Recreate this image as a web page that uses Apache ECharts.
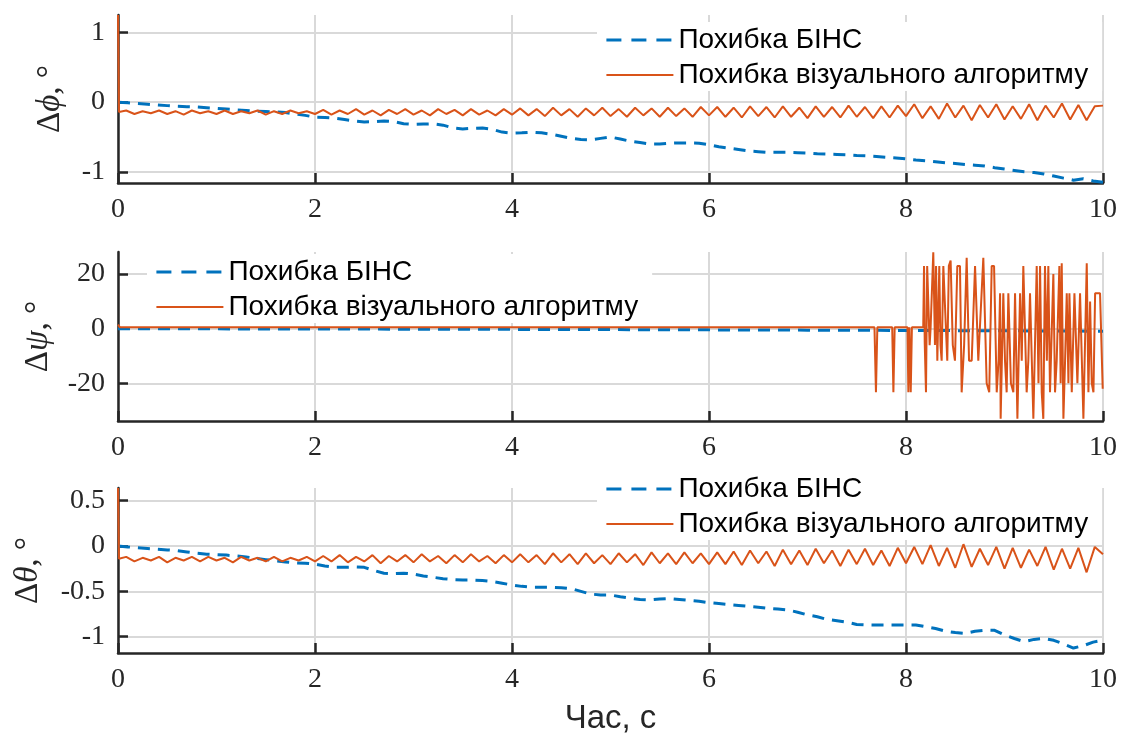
<!DOCTYPE html>
<html><head><meta charset="utf-8">
<script src="https://cdn.jsdelivr.net/npm/echarts@6/dist/echarts.min.js"></script>
<style>html,body{margin:0;padding:0;background:#fff}#c{width:1122px;height:740px}</style>
</head><body><div id="c"></div>
<script>
const xTicks = [0, 2, 4, 6, 8, 10];
const phiTicks = [-1, 0, 1];
const psiTicks = [-20, 0, 20];
const thetaTicks = [-1, -0.5, 0, 0.5];
const seriesNames = ['Похибка БІНС', 'Похибка візуального алгоритму'];

// INS error, sampled every 0.1 s
const insStep = 0.1;
const insPhi = [
  0.00,-0.01,-0.02,-0.03,-0.04,-0.05,-0.06,-0.065,-0.07,-0.08,
  -0.09,-0.10,-0.11,-0.12,-0.13,-0.135,-0.14,-0.15,-0.17,-0.19,
  -0.215,-0.22,-0.23,-0.25,-0.27,-0.285,-0.28,-0.27,-0.28,-0.31,
  -0.32,-0.315,-0.31,-0.33,-0.37,-0.385,-0.375,-0.37,-0.39,-0.43,
  -0.445,-0.44,-0.43,-0.44,-0.46,-0.49,-0.52,-0.535,-0.54,-0.52,
  -0.50,-0.53,-0.56,-0.58,-0.60,-0.60,-0.59,-0.585,-0.585,-0.59,
  -0.61,-0.64,-0.66,-0.68,-0.70,-0.71,-0.72,-0.72,-0.72,-0.725,
  -0.73,-0.74,-0.745,-0.75,-0.755,-0.765,-0.77,-0.78,-0.79,-0.80,
  -0.815,-0.83,-0.84,-0.855,-0.87,-0.88,-0.895,-0.905,-0.915,-0.94,
  -0.96,-0.98,-1.00,-1.01,-1.03,-1.06,-1.09,-1.12,-1.10,-1.13,
  -1.15
];
const insTheta = [
  0.00,-0.01,-0.02,-0.027,-0.035,-0.043,-0.05,-0.065,-0.08,-0.09,
  -0.095,-0.10,-0.11,-0.12,-0.135,-0.15,-0.165,-0.175,-0.185,-0.19,
  -0.20,-0.22,-0.235,-0.235,-0.23,-0.235,-0.27,-0.30,-0.305,-0.30,
  -0.31,-0.33,-0.345,-0.36,-0.37,-0.375,-0.375,-0.38,-0.39,-0.41,
  -0.43,-0.445,-0.455,-0.455,-0.455,-0.46,-0.47,-0.50,-0.53,-0.54,
  -0.54,-0.56,-0.575,-0.59,-0.595,-0.585,-0.58,-0.59,-0.60,-0.61,
  -0.625,-0.635,-0.645,-0.655,-0.665,-0.675,-0.687,-0.695,-0.705,-0.73,
  -0.76,-0.78,-0.81,-0.825,-0.84,-0.865,-0.87,-0.871,-0.871,-0.871,
  -0.871,-0.871,-0.89,-0.91,-0.94,-0.955,-0.963,-0.94,-0.93,-0.93,
  -0.98,-1.02,-1.055,-1.03,-1.02,-1.04,-1.08,-1.125,-1.10,-1.06,
  -1.04
];
const insPsiStep = 0.5;
const insPsi = [0,-0.02,-0.05,-0.08,-0.10,-0.13,-0.17,-0.20,-0.24,-0.28,-0.32,
  -0.37,-0.42,-0.47,-0.52,-0.58,-0.64,-0.70,-0.77,-0.84,-0.90];

// Visual algorithm error, sampled every 1/12 s (t = 1/12 ... 10), plus the start spike
const visStep = 1 / 12;
const visPhiStart = [[0, 1.25], [0.01, -0.14]];
const visPhi = [
  -0.12,-0.17,-0.13,-0.16,-0.12,-0.17,-0.13,-0.18,-0.12,-0.16,-0.13,-0.17,-0.12,-0.17,-0.13,-0.16,-0.12,-0.18,-0.13,-0.17,-0.12,-0.16,-0.13,-0.17,
  -0.11,-0.18,-0.12,-0.17,-0.10,-0.18,-0.12,-0.19,-0.11,-0.17,-0.10,-0.18,-0.12,-0.19,-0.10,-0.17,-0.11,-0.19,-0.10,-0.18,-0.12,-0.19,-0.10,-0.18,
  -0.09,-0.19,-0.10,-0.20,-0.08,-0.19,-0.10,-0.21,-0.09,-0.19,-0.08,-0.20,-0.10,-0.21,-0.08,-0.19,-0.09,-0.21,-0.08,-0.20,-0.09,-0.21,-0.07,-0.19,
  -0.07,-0.21,-0.08,-0.22,-0.06,-0.20,-0.07,-0.22,-0.06,-0.21,-0.08,-0.23,-0.06,-0.21,-0.07,-0.22,-0.05,-0.21,-0.07,-0.23,-0.06,-0.22,-0.05,-0.20,
  -0.03,-0.23,-0.06,-0.24,-0.02,-0.22,-0.05,-0.26,-0.04,-0.22,-0.03,-0.25,-0.06,-0.24,-0.03,-0.26,-0.05,-0.22,-0.02,-0.25,-0.04,-0.26,-0.06,-0.05
];
const visThetaStart = [[0, 0.64], [0.01, -0.14]];
const visTheta = [
  -0.12,-0.17,-0.13,-0.16,-0.12,-0.18,-0.13,-0.16,-0.12,-0.17,-0.12,-0.16,-0.13,-0.18,-0.12,-0.16,-0.13,-0.17,-0.12,-0.17,-0.13,-0.16,-0.12,-0.17,
  -0.11,-0.17,-0.10,-0.18,-0.12,-0.17,-0.10,-0.19,-0.11,-0.17,-0.10,-0.18,-0.09,-0.17,-0.11,-0.19,-0.10,-0.18,-0.09,-0.17,-0.11,-0.19,-0.10,-0.18,
  -0.09,-0.18,-0.10,-0.20,-0.08,-0.18,-0.09,-0.20,-0.08,-0.19,-0.10,-0.20,-0.08,-0.18,-0.09,-0.21,-0.07,-0.19,-0.08,-0.20,-0.07,-0.19,-0.08,-0.20,
  -0.07,-0.20,-0.06,-0.21,-0.05,-0.19,-0.06,-0.22,-0.04,-0.20,-0.05,-0.21,-0.03,-0.19,-0.05,-0.22,-0.04,-0.20,-0.03,-0.21,-0.05,-0.22,-0.02,-0.19,
  -0.01,-0.20,0.01,-0.22,-0.02,-0.24,0.02,-0.23,-0.03,-0.21,-0.01,-0.25,-0.02,-0.24,-0.04,-0.22,-0.01,-0.26,-0.03,-0.25,-0.02,-0.29,-0.01,-0.09
];
// yaw error of the visual algorithm: [time, value]
const visPsi = [
  [0,1.5],[0.02,0.5],[7.68,0.5],[7.695,-23.3],[7.709,0.5],[7.86,0.5],[7.872,-23.3],[7.885,0.5],
  [8.015,0.5],[8.024,-23.3],[8.035,0.5],[8.048,-23.3],[8.06,0.5],[8.175,0.5],[8.183,23],[8.19,-5],[8.203,-23.3],
  [8.215,23],[8.227,23],[8.24,-6],[8.25,0.5],[8.277,28],[8.294,-6],[8.305,23],[8.318,-11.7],[8.338,23],[8.35,-6],[8.362,-11.7],[8.379,23],
  [8.399,23],[8.419,-11.7],[8.435,23],[8.453,25],[8.475,-6],[8.497,-11.7],[8.521,23],[8.548,23],[8.565,-23.3],[8.59,-6],[8.616,26],
  [8.64,-11.7],[8.667,-11.7],[8.701,23],[8.734,-11.7],[8.785,26],[8.802,26],[8.819,-20],[8.845,-23.3],[8.87,23],
  [8.894,23],[8.921,-23.3],[8.94,-11.7],[8.955,13],[8.961,-33],[8.988,13],[9.005,-11.7],[9.022,-23.3],[9.039,13],[9.065,-20],[9.09,-23.3],
  [9.107,13],[9.131,-33],[9.158,13],[9.175,-11.7],[9.191,23],[9.225,-23.3],[9.242,-11.7],[9.259,13],[9.293,-33],
  [9.327,23],[9.345,-20],[9.361,23],[9.378,-23.3],[9.394,-33],[9.411,23],[9.43,-11.7],[9.445,23],[9.462,-23.3],[9.496,20],
  [9.513,-23.3],[9.53,-11.7],[9.557,23],[9.57,-20],[9.581,24],[9.598,-33],[9.615,-11.7],[9.632,13],[9.649,-20],[9.659,13],
  [9.683,-23.3],[9.71,13],[9.74,-20],[9.767,13],[9.784,13],[9.801,-33],[9.835,24],[9.852,-23.3],
  [9.869,10],[9.886,-20],[9.903,-23.3],[9.92,13],[9.97,13],[9.997,-22]
];

const BLUE = '#0072BD', ORANGE = '#D95319', AX = '#262626';
const serif = "'Liberation Serif', 'DejaVu Serif', serif";
const sans = "'Liberation Sans', Arial, sans-serif";

const insSeries = (arr, step) => arr.map((v, i) => [+(i * step).toFixed(4), v]);
const visSeries = (start, arr) => start.concat(arr.map((v, i) => [+((i + 1) * visStep).toFixed(4), v]));

const grids = [
  { left: 118, right: 19, top: 15, height: 168 },
  { left: 118, right: 19, top: 252, height: 169 },
  { left: 118, right: 19, top: 488, height: 165 }
];

function xAx(gi, withName) {
  const a = {
    type: 'value', gridIndex: gi, min: 0, max: 10, interval: 2,
    axisLine: { show: true, onZero: false, lineStyle: { color: AX, width: 2.5 } },
    axisTick: { show: true, inside: true, length: 10, lineStyle: { color: AX, width: 2.5 } },
    axisLabel: { margin: 13, color: AX, fontFamily: serif, fontSize: 28 },
    splitLine: { show: true, lineStyle: { color: '#d9d9d9', width: 2 } }
  };
  if (withName) {
    a.name = 'Час, с';
    a.nameLocation = 'middle';
    a.nameGap = 49;
    a.nameTextStyle = { fontFamily: sans, fontSize: 33, color: AX };
  }
  return a;
}
function yAx(gi, min, max, ticks, greek, gap) {
  return {
    type: 'value', gridIndex: gi, min: min, max: max,
    axisLine: { show: true, onZero: false, lineStyle: { color: AX, width: 2.5 } },
    axisTick: { show: true, inside: true, length: 10, customValues: ticks, lineStyle: { color: AX, width: 2.5 } },
    axisLabel: { customValues: ticks, margin: 13, color: AX, fontFamily: serif, fontSize: 28 },
    splitLine: { show: true, lineStyle: { color: '#d9d9d9', width: 2 } },
    name: '{d|Δ}{g|' + greek + '}{d|, °}',
    nameLocation: 'middle', nameGap: gap,
    nameTextStyle: {
      color: AX,
      rich: {
        d: { fontFamily: serif, fontSize: 33, color: AX },
        g: { fontFamily: serif, fontSize: 33, fontStyle: 'italic', color: AX }
      }
    }
  };
}
function legendAt(left, top) {
  return {
    data: [
      { name: seriesNames[0], lineStyle: { type: [15, 10], width: 2.8 } },
      { name: seriesNames[1] }
    ],
    orient: 'vertical', left: left, top: top,
    itemWidth: 67, itemHeight: 14, itemGap: 7,
    padding: [4, 14, 2, 8], backgroundColor: '#ffffff',
    selectedMode: false,
    itemStyle: { opacity: 0 },
    textStyle: { fontFamily: sans, fontSize: 28, color: '#000', lineHeight: 28 }
  };
}
function lineSeries(name, gi, data, isIns) {
  return {
    type: 'line', name: name, xAxisIndex: gi, yAxisIndex: gi, data: data,
    showSymbol: false, symbol: 'none', smooth: false, animation: false,
    lineStyle: isIns ? { color: BLUE, width: 3, type: [12, 8] } : { color: ORANGE, width: 2 },
    itemStyle: { color: isIns ? BLUE : ORANGE },
    z: isIns ? 2 : 3
  };
}

const chart = echarts.init(document.getElementById('c'), null, { renderer: 'canvas' });
chart.setOption({
  backgroundColor: '#ffffff',
  animation: false,
  grid: grids,
  xAxis: [xAx(0, false), xAx(1, false), xAx(2, true)],
  yAxis: [
    yAx(0, -1.16, 1.25, phiTicks, 'ϕ', 51),
    yAx(1, -33.8, 28.1, psiTicks, 'ψ', 63),
    yAx(2, -1.18, 0.64, thetaTicks, 'θ', 73)
  ],
  legend: [legendAt(597, 22), legendAt(147, 254), legendAt(597, 471)],
  series: [
    lineSeries(seriesNames[0], 0, insSeries(insPhi, insStep), true),
    lineSeries(seriesNames[1], 0, visSeries(visPhiStart, visPhi), false),
    lineSeries(seriesNames[0], 1, insSeries(insPsi, insPsiStep), true),
    lineSeries(seriesNames[1], 1, visPsi, false),
    lineSeries(seriesNames[0], 2, insSeries(insTheta, insStep), true),
    lineSeries(seriesNames[1], 2, visSeries(visThetaStart, visTheta), false)
  ]
});
</script></body></html>
